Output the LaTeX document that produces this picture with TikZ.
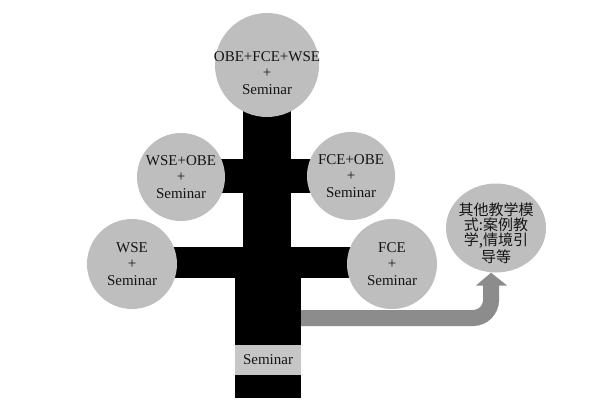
\documentclass[tikz,border=0pt]{standalone}
\usepackage{fontspec}
\setmainfont{Liberation Serif}
\newfontfamily\cjk{Noto Sans CJK SC}
\usetikzlibrary{shapes.geometric}
\definecolor{circgray}{RGB}{190,190,190}
\definecolor{boxgray}{RGB}{198,198,198}
\definecolor{arrgray}{RGB}{140,140,140}
\definecolor{txt}{RGB}{20,20,20}
\tikzset{
  bubble/.style={circle, fill=circgray, inner sep=0pt, align=center, text=txt,
    font=\fontsize{15}{16.5}\selectfont},
  bigbubble/.style={bubble, minimum size=104pt},
  midbubble/.style={bubble, minimum size=88pt},
  lowbubble/.style={bubble, minimum size=90pt},
  otherbubble/.style={ellipse, fill=circgray, inner sep=0pt, minimum width=100pt,
    minimum height=89pt},
  innertext/.style={align=center, text=txt, inner sep=0pt},
  blackpart/.style={fill=black},
  flowarrow/.style={draw=arrgray, line width=16pt, rounded corners=18pt},
  seminarbox/.style={rectangle, fill=boxgray, inner sep=0pt, minimum width=66pt,
    minimum height=30pt, text=txt, font=\fontsize{15}{16.5}\selectfont}
}
\begin{document}
\begin{tikzpicture}[x=1pt,y=-1pt]
\useasboundingbox (0,0) rectangle (600,409);
\fill[white] (0,0) rectangle (600,409);
% trunk and branches
\fill[blackpart] (243,100) rectangle (291,280);
\fill[blackpart] (235,278) rectangle (301,398);
\fill[blackpart] (181,159) rectangle (351,193);
\fill[blackpart] (132,247) rectangle (392,278);
\coordinate (trunkR) at (301,318);
% nodes
\node[bigbubble, label={[innertext, font=\fontsize{15}{16.5}\selectfont, yshift=-8pt]center:{OBE+FCE+WSE\\+\\Seminar}}] (top) at (267,65) {};
\node[midbubble] (ml) at (181,177) {WSE+OBE\\+\\Seminar};
\node[midbubble] (mr) at (351,176) {FCE+OBE\\+\\Seminar};
\node[lowbubble] (ll) at (132,264) {WSE\\+\\Seminar};
\node[lowbubble] (lr) at (392,264) {FCE\\+\\Seminar};
\node[otherbubble, label={[innertext, font=\cjk\fontsize{15}{15}\selectfont, yshift=-5pt]center:{其他教学模\\式:案例教\\学,情境引\\导等}}] (other) at (496,228) {};
\node[seminarbox] (sem) at (268,360) {Seminar};
% arrow
\coordinate (turn) at (491,318);
\coordinate (headbase) at (491,285);
\draw[flowarrow] (trunkR) -- (turn) -- (headbase);
\fill[arrgray] (476,285.5) -- (507,285.5) -- (other.south -| headbase) -- cycle;
\end{tikzpicture}
\end{document}
